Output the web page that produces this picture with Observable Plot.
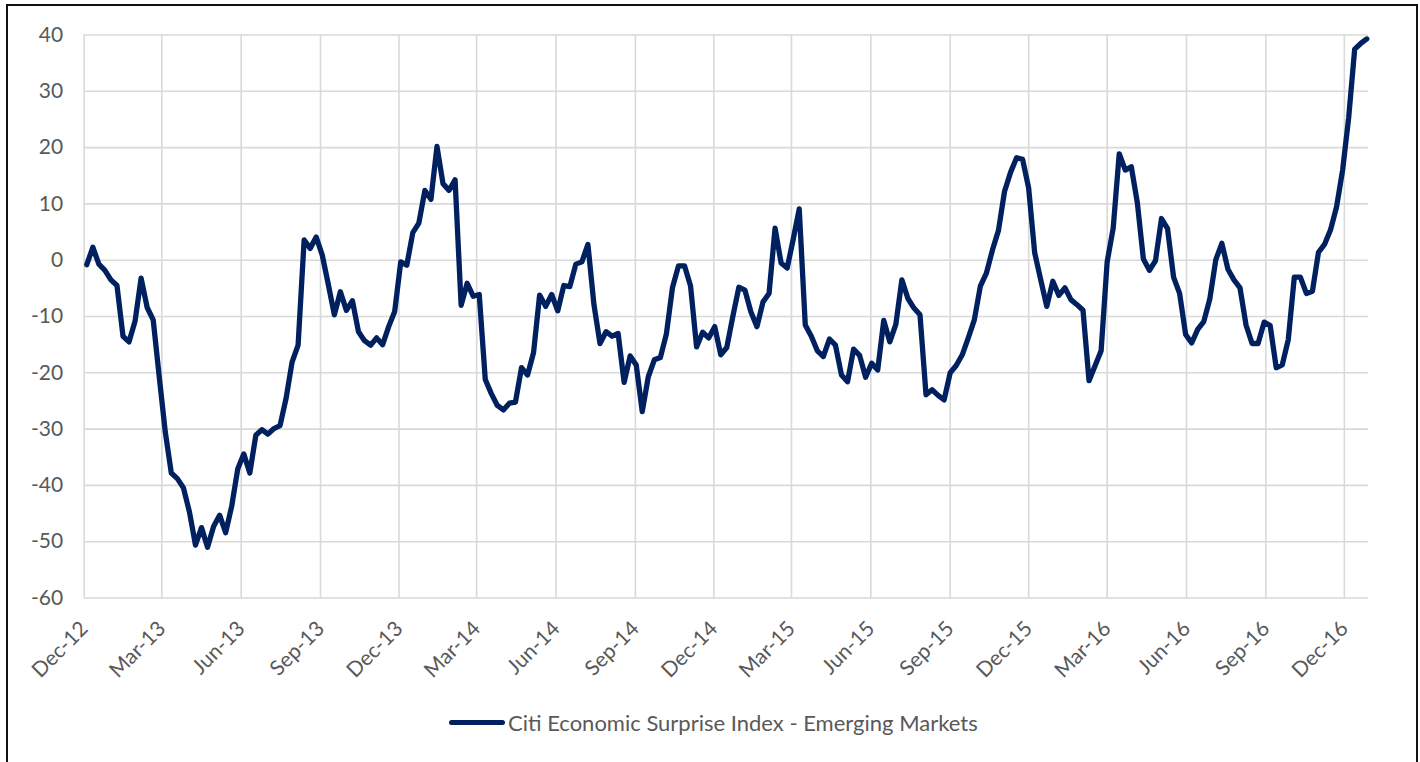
<!DOCTYPE html>
<html>
<head>
<meta charset="utf-8">
<script src="https://cdn.jsdelivr.net/npm/d3@7"></script>
<script src="https://cdn.jsdelivr.net/npm/@observablehq/plot@0.6"></script>
<style>
  html, body { margin: 0; padding: 0; background: #fff; }
  body { width: 1420px; height: 762px; overflow: hidden; position: relative; font-family: Lato, "Open Sans", sans-serif; }
  #frame { position: absolute; left: 6px; top: 4px; width: 1412px; height: 820px; border: 2px solid #111; box-sizing: border-box; }
  #chart { position: absolute; left: 0; top: 0; }
  #legend { position: absolute; left: 449px; top: 709px; height: 26px; display: flex; align-items: center; color: #595959; font-size: 22px; font-family: Lato, sans-serif; white-space: nowrap; }
  #legend .sw { width: 56px; height: 5px; border-radius: 3px; background: #002060; margin-right: 3px; }
</style>
</head>
<body>
<div id="frame"></div>
<div id="chart"></div>
<div id="legend"><span class="sw"></span><span id="legtext"></span></div>
<script>
// Series: weekly readings, first week below
const seriesName = "Citi Economic Surprise Index - Emerging Markets";
const weekStart = "2012-12-04";
const csiValues = [
  -0.8, 2.3, -0.7, -1.8, -3.5, -4.5, -13.5, -14.5, -10.8, -3.2,
  -8.4, -10.6, -20.7, -30.5, -37.8, -38.8, -40.4, -44.7, -50.6, -47.5,
  -51.0, -47.3, -45.3, -48.4, -43.7, -37.1, -34.4, -37.8, -31.1, -30.1,
  -30.9, -29.9, -29.4, -24.6, -18.1, -15.1, 3.6, 2.1, 4.1, 0.9,
  -4.3, -9.7, -5.6, -8.9, -7.2, -12.7, -14.3, -15.1, -13.8, -15.0,
  -11.8, -9.1, -0.3, -0.9, 4.9, 6.6, 12.4, 10.8, 20.2, 13.6,
  12.4, 14.3, -8.0, -4.1, -6.4, -6.1, -21.2, -23.7, -25.8, -26.6,
  -25.4, -25.2, -19.1, -20.4, -16.4, -6.2, -8.2, -6.1, -9.0, -4.5,
  -4.7, -0.7, -0.3, 2.8, -7.9, -14.8, -12.7, -13.5, -13.0, -21.7,
  -17.0, -18.6, -26.9, -20.7, -17.7, -17.3, -13.1, -4.9, -1.0, -1.0,
  -4.6, -15.4, -12.8, -13.8, -11.8, -16.8, -15.5, -10.0, -4.8, -5.3,
  -9.2, -11.8, -7.4, -5.9, 5.7, -0.5, -1.4, 3.7, 9.1, -11.5,
  -13.5, -16.1, -17.1, -14.0, -15.1, -20.4, -21.6, -15.8, -16.9, -20.8,
  -18.3, -19.5, -10.7, -14.5, -11.4, -3.5, -6.8, -8.5, -9.7, -23.9,
  -23.0, -24.0, -24.8, -20.0, -18.7, -16.8, -13.8, -10.6, -4.6, -2.3,
  1.8, 5.3, 12.2, 15.6, 18.2, 17.9, 12.8, 1.3, -3.5, -8.2,
  -3.75, -6.25, -4.9, -7.0, -7.9, -8.9, -21.4, -18.75, -16.1, -0.3,
  5.7, 18.9, 16.0, 16.6, 10.2, 0.2, -1.8, -0.1, 7.4, 5.6,
  -3.0, -5.9, -13.2, -14.7, -12.3, -10.9, -6.9, 0.1, 3.0, -1.6,
  -3.5, -4.9, -11.5, -14.8, -14.8, -11.0, -11.6, -19.1, -18.6, -14.1,
  -3.0, -3.0, -5.9, -5.5, 1.4, 2.8, 5.4, 9.5, 16.0, 25.3,
  37.5, 38.5, 39.3
];

// Axis ticks
const xTickDates = ["2012-12-01","2013-03-01","2013-06-01","2013-09-01","2013-12-01",
  "2014-03-01","2014-06-01","2014-09-01","2014-12-01","2015-03-01","2015-06-01",
  "2015-09-01","2015-12-01","2016-03-01","2016-06-01","2016-09-01","2016-12-01"];
const xTickLabels = ["Dec-12","Mar-13","Jun-13","Sep-13","Dec-13","Mar-14","Jun-14",
  "Sep-14","Dec-14","Mar-15","Jun-15","Sep-15","Dec-15","Mar-16","Jun-16","Sep-16","Dec-16"];
const yTicks = [40, 30, 20, 10, 0, -10, -20, -30, -40, -50, -60];
const xDomain = ["2012-12-01", "2016-12-29"];

const start = new Date(weekStart);
const data = csiValues.map((v, i) => ({ date: d3.utcDay.offset(start, 7 * i), value: v }));
const xTicks = xTickDates.map((d, i) => ({ date: new Date(d), label: xTickLabels[i] }));

const gridColor = "#d9d9d9";
const textColor = "#595959";

const chart = Plot.plot({
  width: 1420,
  height: 690,
  marginLeft: 83.7,
  marginRight: 52,
  marginTop: 34.5,
  marginBottom: 92.5,
  style: { fontFamily: "Lato, sans-serif", fontSize: "21px", color: textColor, background: "transparent", overflow: "visible" },
  x: { type: "utc", domain: xDomain.map(d => new Date(d)), axis: null },
  y: { domain: [-60, 40], axis: null },
  marks: [
    Plot.gridY(yTicks, { stroke: gridColor, strokeOpacity: 1, strokeWidth: 1.6 }),
    Plot.gridX(xTicks.map(d => d.date), { stroke: gridColor, strokeOpacity: 1, strokeWidth: 1.6 }),
    Plot.axisY(yTicks, { tickSize: 0, tickPadding: 21, fill: textColor, fontSize: 21, label: null, tickFormat: d => String(d) }),
    Plot.text(xTicks, {
      x: "date", text: "label", frameAnchor: "bottom",
      rotate: -45, textAnchor: "end", lineAnchor: "bottom",
      dx: 5, dy: 32, fill: textColor, fontSize: 21
    }),
    Plot.line(data, { x: "date", y: "value", stroke: "#002060", strokeWidth: 5.3, strokeLinejoin: "round", strokeLinecap: "round" })
  ]
});
document.getElementById("chart").appendChild(chart);
document.getElementById("legtext").textContent = seriesName;
</script>
</body>
</html>
